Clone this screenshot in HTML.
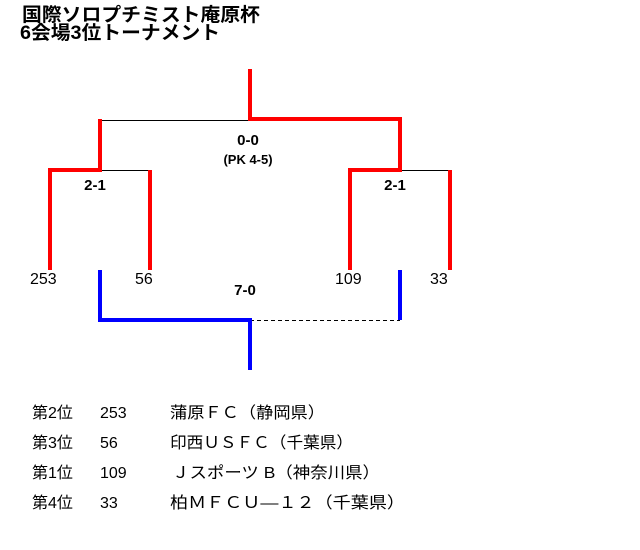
<!DOCTYPE html>
<html><head><meta charset="utf-8"><style>
html,body{margin:0;padding:0;background:#fff;width:640px;height:550px;overflow:hidden}
svg{display:block}
text{font-family:"Liberation Sans","Noto Sans CJK JP",sans-serif;fill:#000}
</style></head><body>
<svg width="640" height="550" viewBox="0 0 640 550">
<text x="22" y="21" font-size="19" font-weight="bold" textLength="238" lengthAdjust="spacingAndGlyphs">国際ソロプチミスト庵原杯</text>
<text x="20" y="39" font-size="19" font-weight="bold" textLength="200" lengthAdjust="spacingAndGlyphs">6会場3位トーナメント</text>
<g stroke="#000" stroke-width="1" fill="none">
<line x1="100" y1="120.5" x2="250" y2="120.5"/>
<line x1="100" y1="170.5" x2="150" y2="170.5"/>
<line x1="400" y1="170.5" x2="450" y2="170.5"/>
<line x1="250" y1="320.5" x2="400" y2="320.5" stroke-dasharray="4,3"/>
</g>
<g stroke="#ff0000" stroke-width="4" fill="none" stroke-linecap="square">
<polyline points="250,71 250,119 400,119 400,170 350,170 350,268"/>
<polyline points="100,121 100,170 50,170 50,268"/>
<line x1="150" y1="172" x2="150" y2="268"/>
<line x1="450" y1="172" x2="450" y2="268"/>
</g>
<g stroke="#0000ff" stroke-width="4" fill="none" stroke-linecap="square">
<polyline points="100,272 100,320 250,320 250,368"/>
<line x1="400" y1="272" x2="400" y2="318"/>
</g>
<g font-size="15" font-weight="bold" text-anchor="middle">
<text x="248" y="145">0-0</text>
<text x="248" y="164" font-size="13">(PK 4-5)</text>
<text x="95" y="190">2-1</text>
<text x="395" y="190">2-1</text>
<text x="245" y="295">7-0</text>
</g>
<g font-size="16">
<text x="30" y="284">253</text>
<text x="135" y="284">56</text>
<text x="335" y="284">109</text>
<text x="430" y="284">33</text>
</g>
<g font-size="16">
<text x="32" y="418">第2位</text><text x="100" y="418">253</text><text x="170" y="418" textLength="155" lengthAdjust="spacingAndGlyphs">蒲原ＦＣ（静岡県）</text>
<text x="32" y="448">第3位</text><text x="100" y="448">56</text><text x="170" y="448" textLength="183" lengthAdjust="spacingAndGlyphs">印西ＵＳＦＣ（千葉県）</text>
<text x="32" y="478">第1位</text><text x="100" y="478">109</text><text x="172" y="478" textLength="208" lengthAdjust="spacingAndGlyphs">Ｊスポーツ B（神奈川県）</text>
<text x="32" y="508">第4位</text><text x="100" y="508">33</text><text x="170" y="508" textLength="235" lengthAdjust="spacingAndGlyphs">柏ＭＦＣＵ—１２（千葉県）</text>
</g>
</svg>
</body></html>
